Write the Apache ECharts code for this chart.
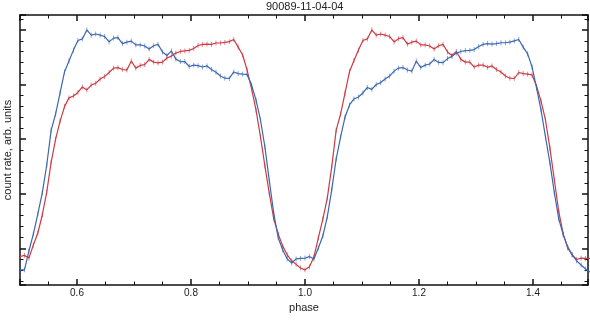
<!DOCTYPE html>
<html>
<head>
<meta charset="utf-8">
<script src="https://cdn.jsdelivr.net/npm/echarts@6/dist/echarts.min.js"></script>
<style>
html,body{margin:0;padding:0;background:#fff;}
#chart{width:590px;height:320px;}
</style>
</head>
<body>
<div id="chart"></div>
<script>
// ---- data ----
const chartTitle = '90089-11-04-04';
const xName = 'phase';
const yName = 'count rate, arb. units';

const phase = [
0.5000,0.5078,0.5156,0.5234,0.5313,0.5391,0.5469,0.5547,
0.5625,0.5703,0.5781,0.5859,0.5938,0.6016,0.6094,0.6172,
0.6250,0.6328,0.6406,0.6484,0.6563,0.6641,0.6719,0.6797,
0.6875,0.6953,0.7031,0.7109,0.7188,0.7266,0.7344,0.7422,
0.7500,0.7578,0.7656,0.7734,0.7813,0.7891,0.7969,0.8047,
0.8125,0.8203,0.8281,0.8359,0.8438,0.8516,0.8594,0.8672,
0.8750,0.8828,0.8906,0.8984,0.9063,0.9141,0.9219,0.9297,
0.9375,0.9453,0.9531,0.9609,0.9688,0.9766,0.9844,0.9922,
1.0000,1.0078,1.0156,1.0234,1.0313,1.0391,1.0469,1.0547,
1.0625,1.0703,1.0781,1.0859,1.0938,1.1016,1.1094,1.1172,
1.1250,1.1328,1.1406,1.1484,1.1563,1.1641,1.1719,1.1797,
1.1875,1.1953,1.2031,1.2109,1.2188,1.2266,1.2344,1.2422,
1.2500,1.2578,1.2656,1.2734,1.2813,1.2891,1.2969,1.3047,
1.3125,1.3203,1.3281,1.3359,1.3438,1.3516,1.3594,1.3672,
1.3750,1.3828,1.3906,1.3984,1.4063,1.4141,1.4219,1.4297,
1.4375,1.4453,1.4531,1.4609,1.4688,1.4766,1.4844,1.4922,
1.5000];

const blueRate = [
12.1,12.1,19.0,25.2,32.6,40.3,50.5,63.3,
69.2,76.9,84.6,88.6,92.6,96.1,96.7,100.0,
98.1,98.5,98.1,97.6,95.6,97.0,97.2,95.0,
95.5,95.9,94.5,94.5,94.1,93.0,94.2,94.7,
91.9,90.6,92.3,89.3,88.4,88.4,86.6,87.1,
86.9,86.4,86.8,85.5,84.5,83.1,82.3,82.2,
84.6,84.0,83.8,83.7,79.8,74.3,67.0,57.1,
44.6,32.6,23.8,19.4,16.1,14.6,16.1,16.3,
16.4,17.0,16.1,20.1,24.5,31.5,41.4,52.7,
60.8,68.1,72.5,74.7,75.4,76.9,78.9,78.2,
80.0,80.7,82.0,83.1,84.9,86.0,86.2,85.3,
84.9,88.6,86.2,87.1,87.5,89.2,88.1,88.0,
89.5,90.3,91.5,92.1,92.4,92.5,92.8,93.9,
94.7,95.0,94.8,95.0,95.3,95.3,95.5,96.0,
96.5,93.7,91.2,86.4,78.7,70.6,60.8,51.3,
40.3,30.7,24.9,20.5,17.6,15.4,13.9,12.4,
11.3];

const redRate = [
17.0,17.4,16.4,21.2,25.6,32.2,40.6,51.6,
60.0,66.6,71.9,75.1,75.8,77.1,79.1,78.0,
79.8,80.4,82.0,82.9,84.4,86.0,86.2,85.5,
85.3,88.6,86.0,87.0,87.3,89.2,88.2,87.9,
88.2,89.7,90.4,91.5,92.1,92.3,92.5,93.2,
94.3,94.7,94.8,94.7,95.2,95.2,95.4,95.7,
96.5,93.7,90.8,85.3,78.4,70.6,60.8,50.1,
39.9,30.7,25.2,20.8,17.6,15.4,14.1,12.8,
12.1,13.2,16.8,23.8,30.7,38.4,49.8,63.3,
69.2,76.9,84.7,88.8,92.6,96.1,96.7,100.0,
98.1,98.5,98.1,97.6,95.6,96.8,97.2,94.8,
95.5,95.9,94.5,94.5,94.1,93.0,94.2,94.7,
91.9,90.6,92.1,89.2,88.2,88.2,86.4,87.1,
87.1,86.3,86.8,85.5,84.6,83.1,82.3,82.2,
84.4,84.0,83.8,83.5,79.4,73.9,67.0,56.7,
45.0,33.3,25.2,20.1,17.6,15.9,16.4,16.3,
16.3];

const errHalf = 0.9;      // half height of the error bars (data units)

// ---- chart ----
const BLUE = '#3b67b3';
const RED = '#cc3a43';
const FONT = 'Liberation Sans, Arial, Helvetica, sans-serif';

function pairs(ys) { return phase.map((p, i) => [p, ys[i]]); }

function errRender(color) {
  return function (params, api) {
    const x = api.value(0), y = api.value(1);
    const t = api.coord([x, y + errHalf]);
    const b = api.coord([x, y - errHalf]);
    return {
      type: 'line',
      shape: { x1: t[0], y1: t[1], x2: b[0], y2: b[1] },
      style: { stroke: color, lineWidth: 1, opacity: 0.6 }
    };
  };
}

const xMin = 0.5, xMax = 1.4965;
const yMin = 6.55, yMax = 105.46;

const axisLineStyle = { color: '#111', width: 1.5 };
function xAxisCfg(pos, showLabels) {
  return {
    type: 'value', position: pos, min: xMin, max: xMax,
    name: showLabels ? xName : '', nameLocation: 'middle', nameGap: 15,
    nameTextStyle: { fontFamily: FONT, fontSize: 11, color: '#222' },
    axisLine: { show: true, onZero: false, lineStyle: axisLineStyle },
    axisTick: { show: true, inside: true, length: 6, lineStyle: { color: '#111', width: 1.5 } },
    minorTick: { show: true, splitNumber: 4, length: 3.5, lineStyle: { color: '#111', width: 1 } },
    axisLabel: {
      show: showLabels, margin: 3, fontFamily: FONT, fontSize: 10, color: '#222',
      showMinLabel: false, showMaxLabel: false,
      formatter: v => v.toFixed(1)
    },
    splitLine: { show: false }, minorSplitLine: { show: false }
  };
}
function yAxisCfg(pos, showName) {
  return {
    type: 'value', position: pos, min: yMin, max: yMax,
    name: showName ? yName : '', nameLocation: 'middle', nameGap: 7,
    nameTextStyle: { fontFamily: FONT, fontSize: 11, color: '#222' },
    axisLine: { show: true, onZero: false, lineStyle: axisLineStyle },
    axisTick: { show: true, inside: true, length: 6, lineStyle: { color: '#111', width: 1.5 } },
    minorTick: { show: true, splitNumber: 5, length: 3.5, lineStyle: { color: '#111', width: 1 } },
    axisLabel: { show: false },
    splitLine: { show: false }, minorSplitLine: { show: false }
  };
}

const chart = echarts.init(document.getElementById('chart'), null, { renderer: 'canvas' });
chart.setOption({
  animation: false,
  backgroundColor: '#fff',
  title: {
    text: chartTitle, left: 266, top: 0, padding: [1, 0, 0, 0],
    textStyle: { fontFamily: FONT, fontSize: 11, fontWeight: 'normal', color: '#222' }
  },
  grid: { left: 20, right: 2, top: 15, bottom: 35, containLabel: false, outerBoundsMode: 'none' },
  xAxis: [xAxisCfg('bottom', true), xAxisCfg('top', false)],
  yAxis: [yAxisCfg('left', true), yAxisCfg('right', false)],
  series: [
    { type: 'line', name: 'red', data: pairs(redRate), showSymbol: false, clip: true,
      lineStyle: { color: RED, width: 1.2 }, itemStyle: { color: RED }, z: 2 },
    { type: 'custom', name: 'redErr', data: pairs(redRate), renderItem: errRender(RED), clip: true, z: 2, silent: true },
    { type: 'line', name: 'blue', data: pairs(blueRate), showSymbol: false, clip: true,
      lineStyle: { color: BLUE, width: 1.2 }, itemStyle: { color: BLUE }, z: 3 },
    { type: 'custom', name: 'blueErr', data: pairs(blueRate), renderItem: errRender(BLUE), clip: true, z: 3, silent: true }
  ]
});
</script>
</body>
</html>
